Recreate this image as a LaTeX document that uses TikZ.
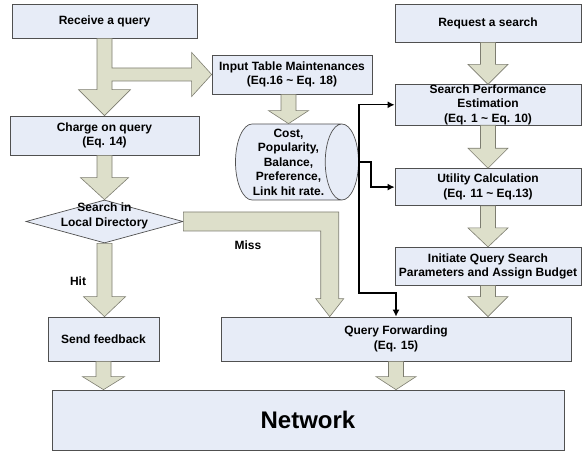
\documentclass[tikz,border=0pt]{standalone}
\usepackage{fontspec}
\setmainfont{Liberation Sans}
\usetikzlibrary{positioning,shapes.geometric,arrows.meta,calc}

\definecolor{boxfill}{RGB}{231,236,247}
\definecolor{boxline}{RGB}{80,80,80}
\definecolor{arrowfill}{RGB}{221,223,202}
\definecolor{arrowline}{RGB}{125,125,112}

\tikzset{
	box/.style={draw=boxline, fill=boxfill, line width=0.7pt, align=center, inner sep=0pt,
		font=\fontsize{12}{14.5}\selectfont\bfseries},
	txt/.style={align=center, inner sep=0pt, font=\fontsize{12}{14.5}\selectfont\bfseries},
	fat/.style={draw=arrowline, fill=arrowfill, line width=0.6pt, line join=miter},
	link/.style={draw=black, line width=1.4pt, -{Latex[length=7pt,width=7pt]}},
}

% big block arrow pointing down: from, to, half width of head, length of head
\newcommand{\fatdown}[4]{%
	\path[fat] let \p1=(#1), \p2=(#2) in
		(\x1-7.5pt,\y1) -- (\x1+7.5pt,\y1) -- (\x1+7.5pt,\y2+#4) -- (\x1+#3,\y2+#4)
		-- (\x1,\y2) -- (\x1-#3,\y2+#4) -- (\x1-7.5pt,\y2+#4) -- cycle;}

\begin{document}
\begin{tikzpicture}[x=1pt,y=-1pt]
	\path[use as bounding box] (0,0) rectangle (583,454);
	
	% left column
	\node [box, minimum width=185pt, minimum height=34pt] (recv) at (104.5,21) {Receive a query};
	\node [box, minimum width=189pt, minimum height=39pt] (charge) at (104.5,135.5) {Charge on query\\(Eq. 14)};
	\node [diamond, draw=boxline, fill=boxfill, line width=0.7pt, inner sep=0pt,
		minimum width=157pt, minimum height=43pt] (dia) at (104.5,221.5) {};
	\node [txt] (diatext) at (104.5,216) {Search in\\Local Directory};
	\node [box, minimum width=111pt, minimum height=44pt] (send) at (103.5,339) {Send feedback};
	\node [box, minimum width=512pt, minimum height=60pt,
		font=\fontsize{24}{28}\selectfont\bfseries] (net) at (308,420) {Network};
	
	% middle
	\node [box, minimum width=160pt, minimum height=39pt] (itab) at (292,74.5) {Input Table Maintenances\\(Eq.16 \textasciitilde{} Eq. 18)};
	\node [cylinder, draw=boxline, fill=boxfill, line width=0.7pt, align=center, inner sep=0pt,
		shape aspect=0.5, minimum height=123pt, minimum width=76pt,
		font=\fontsize{12}{14.5}\selectfont\bfseries] (cyl) at (288.5,162)
		{Cost,\\Popularity,\\Balance,\\Preference,\\Link hit rate.};
	\node [box, minimum width=350pt, minimum height=44pt] (qf) at (396,339) {Query Forwarding\\(Eq. 15)};
	
	% right column
	\node [box, minimum width=186pt, minimum height=38pt] (req) at (488,23) {Request a search};
	\node [box, minimum width=186pt, minimum height=40pt, below=42pt of req] (spe) {Search Performance\\Estimation\\(Eq. 1 \textasciitilde{} Eq. 10)};
	\node [box, minimum width=186pt, minimum height=37pt, below=43pt of spe] (util) {Utility Calculation\\(Eq. 11 \textasciitilde{} Eq.13)};
	\node [box, minimum width=186pt, minimum height=38pt, below=41pt of util] (init) {Initiate Query Search\\Parameters and Assign Budget};
	
	\node [txt] (hit) at (78,281) {Hit};
	\node [txt] (miss) at (248,245) {Miss};
	
	% block arrows
	\path[fat] let \p1=(recv.south), \p2=(charge.north), \p3=(itab.west) in
		(\x1-7.5pt,\y1) -- (\x1+7.5pt,\y1) -- (\x1+7.5pt,\y3+6.5pt) -- (\x3-20pt,\y3+6.5pt)
		-- (\x3-20pt,\y3+22pt) -- (\p3) -- (\x3-20pt,\y3-22pt) -- (\x3-20pt,\y3-6.5pt)
		-- (\x1+7.5pt,\y3-6.5pt) -- (\x1+7.5pt,\y2+26pt) -- (\x1+26pt,\y2+26pt) -- (\x1,\y2)
		-- (\x1-26pt,\y2+26pt) -- (\x1-7.5pt,\y2+26pt) -- cycle;
	\fatdown{charge.south}{dia.north}{24pt}{22pt}
	\fatdown{dia.south}{send.north -| dia.south}{21pt}{20pt}
	\fatdown{send.south}{net.north -| send.south}{21pt}{13pt}
	\fatdown{itab.south -| cyl.north}{cyl.north}{20pt}{13pt}
	\fatdown{req.south}{spe.north}{20pt}{20pt}
	\fatdown{spe.south}{util.north}{20pt}{20pt}
	\fatdown{util.south}{init.north}{20pt}{19pt}
	\fatdown{init.south}{qf.north -| init.south}{20pt}{20pt}
	\fatdown{qf.south}{net.north -| qf.south}{20pt}{13pt}
	
	% miss branch
	\coordinate (misstip) at ($(qf.north west)!0.311!(qf.north east)$);
	\path[fat] let \p1=(dia.east), \p3=(misstip) in
		(\x1,\y1+9.5pt) -- (\x3+9pt,\y1+9.5pt) -- (\x3+9pt,\y3+18pt) -- (\x3+14pt,\y3+18pt)
		-- (\p3) -- (\x3-14pt,\y3+18pt) -- (\x3-9pt,\y3+18pt) -- (\x3-9pt,\y1-9.5pt)
		-- (\x1,\y1-9.5pt) -- cycle;
	
	% table lookups
	\draw [link] (cyl.east) |- (spe.west);
	\draw [link] (cyl.east) -- ++(12,0) |- (util.west);
	\draw [link] (cyl.east) -- ++(0,131) -| (qf.north);
\end{tikzpicture}
\end{document}
